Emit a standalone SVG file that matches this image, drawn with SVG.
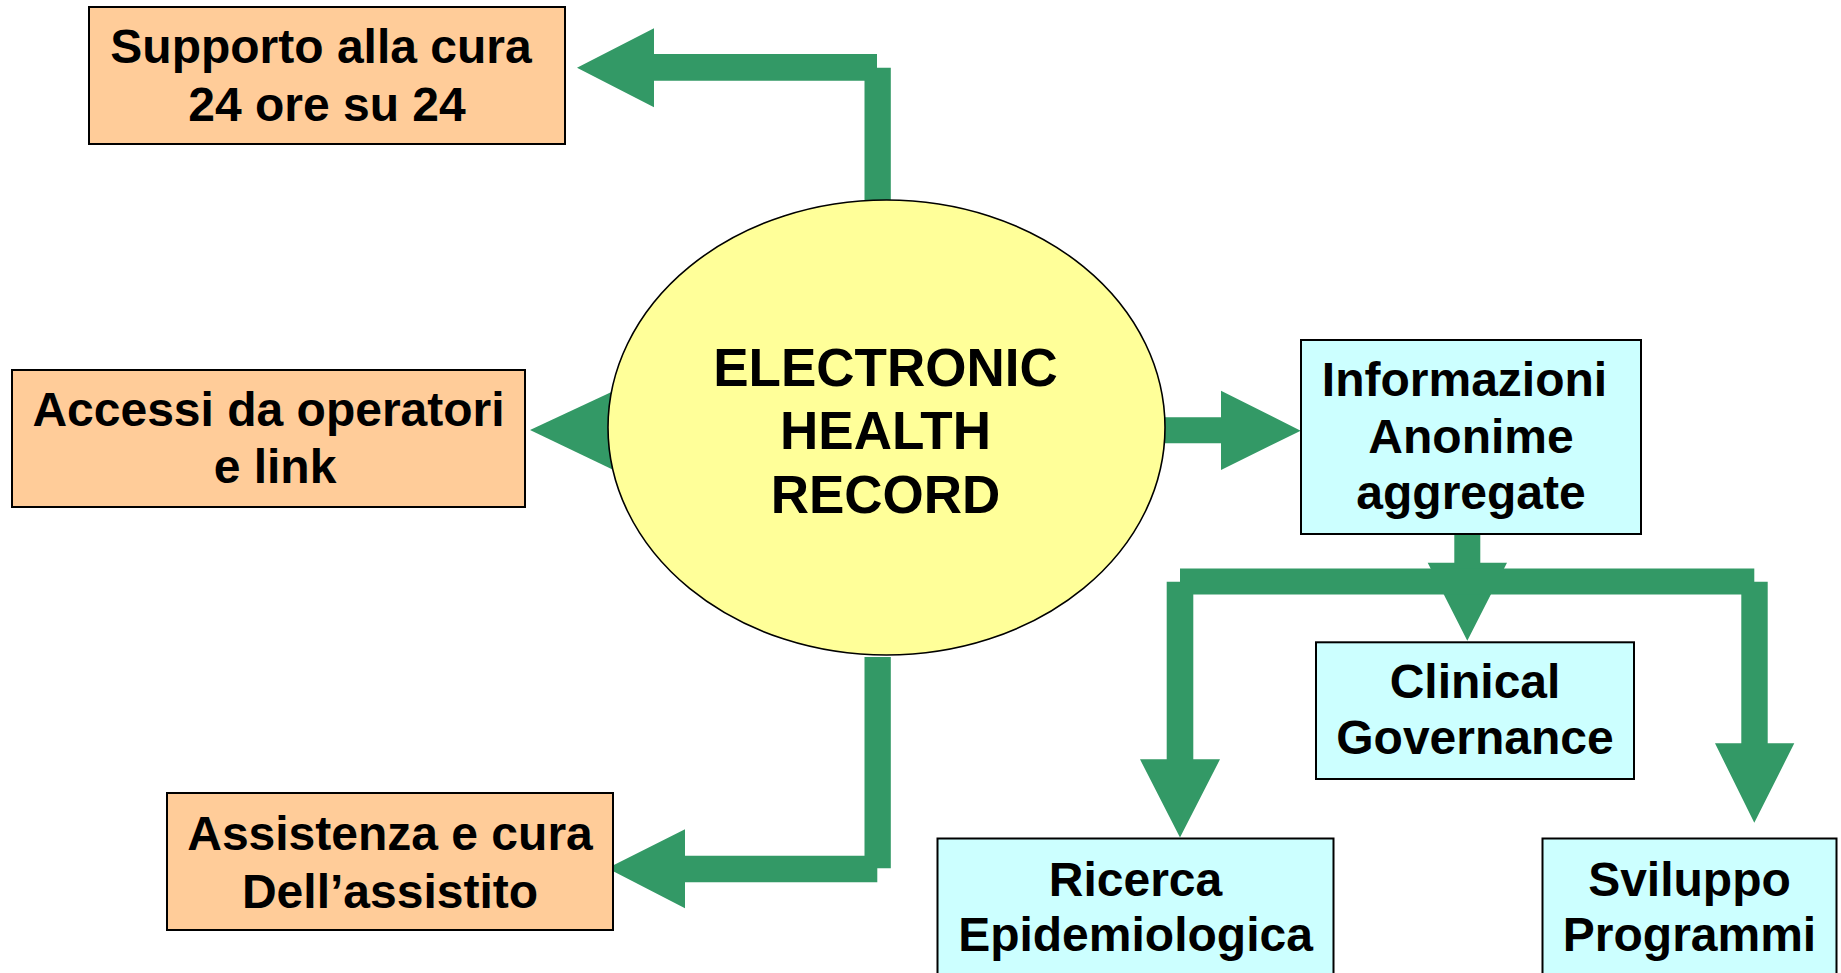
<svg xmlns="http://www.w3.org/2000/svg" width="1841" height="973" viewBox="0 0 1841 973">
  <style>
    .peach { fill: #FFCC99; stroke: #000000; stroke-width: 2; }
    .cyan { fill: #CCFFFF; stroke: #000000; stroke-width: 2; }
    .ell { fill: #FFFF99; stroke: #000000; stroke-width: 1.6; }
    .arrow { fill: #339966; stroke: none; }
    .t { font-family: "Liberation Sans", Arial, sans-serif; font-weight: bold; font-size: 48px; fill: #000000; text-anchor: middle; }
    .tc { font-family: "Liberation Sans", Arial, sans-serif; font-weight: bold; font-size: 53px; fill: #000000; text-anchor: middle; }
  </style>
  <rect width="1841" height="973" fill="#FFFFFF"/>

  <g id="connectors">
    <!-- to Supporto -->
    <polygon class="arrow" points="577,67.7 654,28.3 654,54 877,54 877,67.7 890.8,67.7 890.8,203 864.5,203 864.5,80.7 654,80.7 654,107.3"/>
    <!-- to Accessi -->
    <polygon class="arrow" points="530,430 612,391.7 612,469.3"/>
    <!-- to Assistenza -->
    <polygon class="arrow" points="607.4,868.3 685,829.3 685,855.7 864.5,855.7 864.5,657 890.8,657 890.8,868.3 877.3,868.3 877.3,882.3 685,882.3 685,908.3"/>
    <!-- to Informazioni -->
    <polygon class="arrow" points="1150,417.3 1221,417.3 1221,390.7 1300.7,430.7 1221,470 1221,443.3 1150,443.3"/>
    <!-- to Clinical Governance -->
    <polygon class="arrow" points="1454.3,534 1480.3,534 1480.3,562.7 1507,562.7 1467.3,640.7 1427.7,562.7 1454.3,562.7"/>
    <!-- to Ricerca and Sviluppo -->
    <polygon class="arrow" points="1180,837.5 1140,759.3 1166.7,759.3 1166.7,581.7 1180,581.7 1180,568.5 1754.3,568.5 1754.3,581.7 1767.7,581.7 1767.7,743.3 1794.3,743.3 1754.3,822.7 1715,743.3 1741.3,743.3 1741.3,594.5 1193.3,594.5 1193.3,759.3 1220,759.3"/>
  </g>

  <g id="ehr">
    <ellipse class="ell" cx="886.5" cy="427.5" rx="278.5" ry="227.5"/>
    <text class="tc" x="885.5" y="385.7">ELECTRONIC</text>
    <text class="tc" x="885.5" y="449.3">HEALTH</text>
    <text class="tc" x="885.5" y="513.3">RECORD</text>
  </g>

  <g id="supporto">
    <rect class="peach" x="89" y="7" width="476" height="137"/>
    <text class="t" x="321" y="63.3">Supporto alla cura</text>
    <text class="t" x="327" y="120.5">24 ore su 24</text>
  </g>

  <g id="accessi">
    <rect class="peach" x="12" y="370" width="513" height="137"/>
    <text class="t" x="268.5" y="426">Accessi da operatori</text>
    <text class="t" x="275" y="482.5">e link</text>
  </g>

  <g id="assistenza">
    <rect class="peach" x="167" y="793" width="446" height="137"/>
    <text class="t" x="390" y="850">Assistenza e cura</text>
    <text class="t" x="390" y="907.5">Dell’assistito</text>
  </g>

  <g id="informazioni">
    <rect class="cyan" x="1301" y="340" width="340" height="194"/>
    <text class="t" x="1464.5" y="395.5">Informazioni</text>
    <text class="t" x="1471" y="452.5">Anonime</text>
    <text class="t" x="1471" y="508.7">aggregate</text>
  </g>

  <g id="clinical">
    <rect class="cyan" x="1316" y="642.3" width="318" height="136.7"/>
    <text class="t" x="1475" y="698">Clinical</text>
    <text class="t" x="1475" y="754">Governance</text>
  </g>

  <g id="ricerca">
    <rect class="cyan" x="937.5" y="838.5" width="396" height="145"/>
    <text class="t" x="1135.5" y="895.5">Ricerca</text>
    <text class="t" x="1135.5" y="950.7">Epidemiologica</text>
  </g>

  <g id="sviluppo">
    <rect class="cyan" x="1542.5" y="838.5" width="294" height="145"/>
    <text class="t" x="1689.5" y="895.5">Sviluppo</text>
    <text class="t" x="1689.5" y="950.7">Programmi</text>
  </g>
</svg>
